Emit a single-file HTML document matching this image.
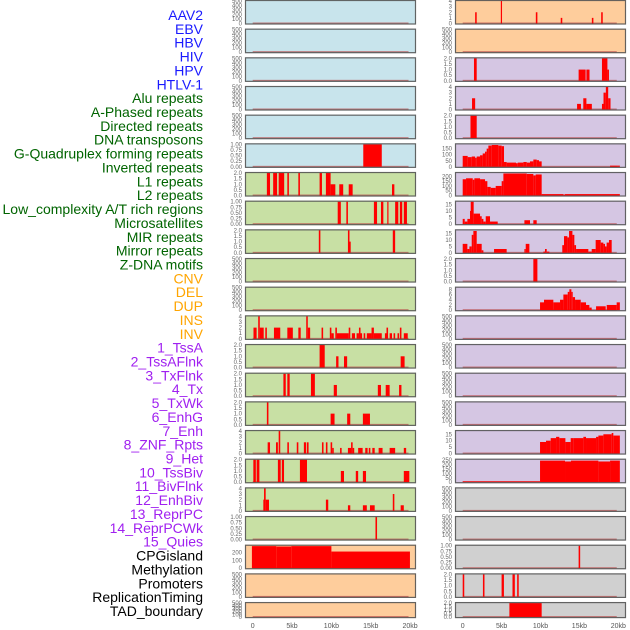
<!DOCTYPE html>
<html><head><meta charset="utf-8"><style>
html,body{margin:0;padding:0;background:#fff;}
svg{display:block;font-family:"Liberation Sans",sans-serif;}
</style></head><body>
<svg id="chart" width="630" height="630" viewBox="0 0 630 630" xmlns="http://www.w3.org/2000/svg"></svg>
<script>
// ---- Labels ----
const trackLabels = ["AAV2","EBV","HBV","HIV","HPV","HTLV-1","Alu repeats","A-Phased repeats","Directed repeats","DNA transposons","G-Quadruplex forming repeats","Inverted repeats","L1 repeats","L2 repeats","Low_complexity A/T rich regions","Microsatellites","MIR repeats","Mirror repeats","Z-DNA motifs","CNV","DEL","DUP","INS","INV","1_TssA","2_TssAFlnk","3_TxFlnk","4_Tx","5_TxWk","6_EnhG","7_Enh","8_ZNF_Rpts","9_Het","10_TssBiv","11_BivFlnk","12_EnhBiv","13_ReprPC","14_ReprPCWk","15_Quies","CPGisland","Methylation","Promoters","ReplicationTiming","TAD_boundary"];
const labelColors = [6,"#1a1aff",13,"#006400",5,"#ffa500",15,"#a020f0",5,"#000000"];
const xTickValues = [0,5,10,15,20];
const xTickLabels = ["0","5kb","10kb","15kb","20kb"];
const ticks500 = [0,100,200,300,400,500];
const ticks1 = ["0.00","0.25","0.50","0.75","1.00"];
const ticks2 = ["0.0","0.5","1.0","1.5","2.0"];
const ticks4 = [0,1,2,3,4];

// ---- Left column bar data: [startKb, endKb, value] ----
const L05 = [[14.05,16.4,1]];
const L06 = [[1.8,2.2,2],[2.6,3.1,2],[3.3,4.0,2],[4.4,4.6,2],[5.8,6.0,2],[8.5,8.8,2],[9.3,9.9,2],[9.9,10.5,1],[11.0,11.5,1],[12.2,12.7,1],[17.7,18.0,1]];
const L07 = [[10.8,11.2,1],[11.9,12.1,1],[15.4,15.8,1],[16.3,16.6,1],[17.1,17.2,1],[18.1,18.5,1],[18.7,19.0,1],[19.2,19.6,1]];
const L08 = [[8.4,8.6,2],[12.1,12.3,2],[12.3,12.4,1],[17.8,18.1,2]];
const L11 = [[0.1,0.5,2],[0.7,0.9,4],[0.9,1.4,2],[1.6,1.8,2],[2.7,3.5,2],[4.4,5.1,2],[5.8,6.1,2],[6.8,7.0,4],[7.0,7.3,2],[8.75,8.95,2],[9.8,10.0,2],[10.0,10.3,1],[10.5,10.7,2],[10.7,12.2,1],[12.2,12.4,2],[12.6,13.0,1],[13.2,13.5,1],[13.5,13.7,2],[13.7,13.9,1],[14.1,14.3,1],[14.5,15.1,1],[15.1,15.4,2],[15.4,16.4,1],[16.8,17.0,1],[17.0,17.2,2],[17.4,17.7,1],[17.9,18.1,1],[18.4,18.6,1],[18.7,18.9,2],[19.2,19.7,1]];
const L12 = [[8.5,9.15,2],[10.6,10.9,1],[11.6,12.0,1],[18.8,19.3,1]];
const L13 = [[3.9,4.2,2],[4.4,4.7,2],[7.4,7.9,2],[10.3,10.7,1],[15.9,16.3,1],[16.9,17.4,1],[18.6,18.9,1]];
const L14 = [[1.8,2.0,2],[9.9,10.4,1],[12.0,12.4,1],[14.0,14.9,1]];
const L15 = [[1.9,2.2,2],[2.96,3.2,2],[3.3,3.5,4],[4.4,4.6,2],[5.6,5.8,2],[6.5,6.8,2],[6.9,7.1,2],[8.8,9.0,2],[9.3,9.5,2],[9.9,10.1,2],[10.1,10.3,1],[11.1,11.3,1],[12.1,12.5,1],[12.5,12.7,2],[12.7,12.9,1],[13.4,13.97,1],[14.3,14.6,1],[14.75,14.95,1],[15.2,15.5,1],[16.0,16.5,1],[17.4,18.1,1],[19.2,19.5,1]];
const L16 = [[0.08,0.4,2],[0.5,0.85,2],[3.2,3.56,2],[3.7,3.98,2],[6.0,6.9,2],[11.2,11.6,1],[13.1,13.4,1],[14.0,14.4,1],[19.2,19.9,1]];
const L17 = [[1.35,1.44,2],[1.44,1.65,4],[1.65,2.07,2],[9.3,9.6,2],[12.1,12.4,1],[14.0,14.5,1],[14.9,15.5,1],[17.8,18.0,3],[18.8,19.2,1]];
const L18 = [[15.6,15.8,1]];
const L19 = [[-0.1,3.0,285],[3.0,4.9,280],[4.9,10.0,285],[10.0,19.98,215]];

// ---- Right column bar data ----
const R00 = [[1.6,1.8,2],[4.9,5.0,4],[9.4,9.6,2],[12.6,12.8,1],[16.6,16.8,1],[17.8,18.0,2]];
const R02 = [[1.45,1.8,2],[14.9,15.8,1],[15.9,16.3,1],[17.9,18.6,2],[18.6,18.8,1]];
const R03 = [[1.2,1.6,2],[14.7,15.2,1],[15.5,15.9,2],[15.9,16.6,1],[17.9,18.1,1],[18.1,18.4,3],[18.4,18.7,4],[18.7,19.0,2]];
const R04 = [[1.0,1.8,2]];
const R05 = [[0,0.64,90],[0.64,1.16,80],[1.16,1.59,85],[1.59,1.8,75],[1.8,2.23,85],[2.23,2.57,95],[2.57,2.87,110],[2.87,3.08,125],[3.08,3.3,150],[3.3,3.73,175],[3.73,4.58,180],[4.58,5.01,175],[5.01,5.31,170],[5.31,5.65,40],[5.65,6.85,35],[6.85,7.07,30],[7.07,7.8,35],[7.8,8.23,40],[8.23,8.65,35],[8.65,9.08,45],[9.08,9.51,60],[9.51,9.81,55],[9.81,10.15,45],[18.94,20.2,10]];
const R06 = [[0,0.43,170],[0.43,1.29,180],[1.29,1.5,165],[1.5,2.23,180],[2.23,2.87,170],[2.87,3.17,150],[3.17,3.6,90],[3.6,4.24,80],[4.24,5.01,100],[5.01,5.23,150],[5.23,8.23,230],[8.23,9.08,225],[9.08,9.38,210],[9.38,10.15,220],[10.15,12.94,15],[12.94,13.15,10],[13.15,20.2,15]];
const R07 = [[0,0.26,4],[0.26,0.6,2],[0.6,0.94,4],[0.94,1.03,10],[1.03,1.41,17],[1.41,2.23,8],[2.23,2.44,6],[2.44,2.66,4],[2.66,2.96,2],[2.96,3.51,6],[3.51,4.5,2],[7.93,8.65,3],[9.08,9.51,3]];
const R08 = [[0,0.6,7],[0.6,0.86,3],[0.86,1.16,5],[1.16,1.37,14],[1.37,1.8,17],[1.8,2.44,7],[2.44,2.66,2],[4.03,5.65,3],[7.93,8.1,3],[8.1,8.57,7],[10.37,10.58,1],[10.58,10.8,3],[10.8,11.14,1],[12.8,13.02,6],[13.02,13.45,13],[13.45,13.67,12],[13.67,14.1,17],[14.1,14.35,14],[14.35,14.57,6],[14.57,16.15,3],[16.15,16.58,1],[16.58,17.09,3],[17.09,17.74,10],[17.74,18.08,8],[18.08,18.29,7],[18.29,18.5,5],[18.5,18.8,8],[18.8,19.15,10]];
const R09 = [[9.08,9.6,2]];
const R10 = [[9.94,10.45,3],[10.45,11.65,4],[11.65,12.51,3],[12.51,12.94,4],[12.94,13.5,6],[13.5,13.71,7],[13.71,13.97,8],[13.97,14.14,7],[14.14,14.44,5],[14.44,15.17,4],[15.17,15.85,3],[15.85,16.28,2],[16.28,16.58,1],[17.14,18.38,1.5],[18.51,19.79,2],[19.79,20.2,3]];
const R15 = [[9.94,10.71,9],[10.71,11.31,10],[11.31,12.0,12],[12.0,12.42,13],[12.42,13.2,12],[13.2,13.88,9],[13.88,14.22,12],[14.22,15.51,12],[15.51,15.85,13],[15.85,17.14,12],[17.14,17.44,13],[17.44,18.08,14],[18.08,19.15,15],[19.15,19.36,16],[19.36,20.2,14]];
const R16 = [[0,9.94,10],[9.94,13.15,245],[13.15,13.92,235],[13.92,17.44,245],[17.44,18.94,235],[18.94,20.2,245]];
const R19 = [[14.9,15.1,1]];
const R20 = [[0.0,0.2,2],[2.6,2.8,2],[5.0,5.3,2],[6.4,6.7,2],[7.0,7.2,2]];
const R21 = [[6.0,10.15,2]];

const C = {blue:"#c8e4ec",green:"#c8e0a4",orange:"#fecd9c",purple:"#d5c6e3",gray:"#d0d0d0"};
// panel config: [bars, ymax, tickLabels, bg]
const leftPanels = [
 [[],500,ticks500,C.blue],[[],500,ticks500,C.blue],[[],500,ticks500,C.blue],[[],500,ticks500,C.blue],[[],500,ticks500,C.blue],
 [L05,1,ticks1,C.blue],
 [L06,2,ticks2,C.green],[L07,1,ticks1,C.green],[L08,2,ticks2,C.green],[[],500,ticks500,C.green],[[],500,ticks500,C.green],
 [L11,4,ticks4,C.green],[L12,2,ticks2,C.green],[L13,2,ticks2,C.green],[L14,2,ticks2,C.green],[L15,4,ticks4,C.green],
 [L16,2,ticks2,C.green],[L17,4,ticks4,C.green],[L18,1,ticks1,C.green],
 [L19,290,[0,100,200],C.orange],[[],500,ticks500,C.orange],[[],500,ticks500,C.orange]
];
const rightPanels = [
 [R00,4,ticks4,C.orange],[[],500,ticks500,C.orange],
 [R02,2,ticks2,C.purple],[R03,4,ticks4,C.purple],[R04,2,ticks2,C.purple],[R05,185,[0,50,100,150],C.purple],
 [R06,235,[0,50,100,150,200],C.purple],[R07,17,[0,5,10,15],C.purple],[R08,17.5,[0,5,10,15],C.purple],[R09,2,ticks2,C.purple],
 [R10,8.6,[0,2,4,6,8],C.purple],[[],500,ticks500,C.purple],[[],500,ticks500,C.purple],[[],500,ticks500,C.purple],[[],500,ticks500,C.purple],
 [R15,17.5,[0,5,10,15],C.purple],[R16,255,[0,50,100,150,200,250],C.purple],
 [[],500,ticks500,C.gray],[[],500,ticks500,C.gray],[R19,1,ticks1,C.gray],[R20,2,ticks2,C.gray],[R21,2,ticks2,C.gray]
];

const NS = "http://www.w3.org/2000/svg";
const svg = document.getElementById("chart");
function mk(tag, attrs, parent){const e=document.createElementNS(NS,tag);for(const k in attrs)e.setAttribute(k,attrs[k]);(parent||svg).appendChild(e);return e;}

const PITCH = 28.67, PH = 24.5;
const cols = [{x0:245,x1:416,zero:252.7,scale:7.87,panels:leftPanels,side:"left"},{x0:455,x1:626,zero:462.7,scale:7.78,panels:rightPanels,side:"right"}];

cols.forEach(col=>{
  const xs = kb => col.zero + kb*col.scale;
  col.panels.forEach((p,i)=>{
    const [bars,ymax,tks,bg] = p;
    const top = i*PITCH;
    const h = (i===21)?16:PH;
    const bottom = top+h;
    const ys = v => bottom-1 - v/ymax*(h-2);
    const g = mk("g",{});
    
    
    const bgR = mk("rect",{x:col.x0,y:top,width:col.x1-col.x0,height:h,fill:bg},g);
    
    
    const base = mk("rect",{x:xs(0),y:bottom-2,width:xs(19.8)-xs(0),height:1.2,fill:"#b84848",opacity:0.7},g);
    
    
    bars.forEach(b=>{
      const y=ys(b[2]);
      const r = mk("rect",{x:xs(b[0]),y:y,width:Math.max(1.2,xs(b[1])-xs(b[0])),height:bottom-1-y,fill:"#ff0000"},g);
      
      
    });
    mk("rect",{x:col.x0+0.5,y:top+0.5,width:col.x1-col.x0-1,height:h-1,fill:"none",stroke:"#555",opacity:0.9,"stroke-width":1.2},g);
    tks.forEach(t=>{
      const v = parseFloat(t);
      const tx = mk("text",{x:col.x0-3,y:ys(v)+2,"font-size":6,"text-anchor":"end",fill:"#666"},g);
      
      
      tx.textContent = t;
    });
  });
  xTickValues.forEach((v,k)=>{
    const t = mk("text",{x:xs(v),y:628,"font-size":7,"text-anchor":"middle",fill:"#555"});
    
    
    t.textContent = xTickLabels[k];
  });
});

// labels
const colorList=[];
for(let i=0;i<labelColors.length;i+=2){for(let j=0;j<labelColors[i];j++)colorList.push(labelColors[i+1]);}
trackLabels.forEach((lab,i)=>{
  const t = mk("text",{x:203,y:20+i*13.86,"font-size":14,"text-anchor":"end",fill:colorList[i]});
  
  
  t.textContent = lab;
});
</script>
</body></html>
